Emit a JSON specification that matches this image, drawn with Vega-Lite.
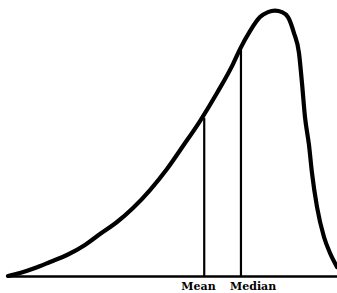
{
  "$schema": "https://vega.github.io/schema/vega-lite/v6.json",
  "width": 337,
  "height": 293,
  "autosize": "none",
  "padding": 0,
  "background": "white",
  "config": {"view": {"stroke": null}},
  "datasets": {
    "curve": [
      {"x": 2.37, "y": 0},
      {"x": 5.93, "y": 1.13},
      {"x": 10.39, "y": 3.01},
      {"x": 14.84, "y": 5.26},
      {"x": 19.88, "y": 7.89},
      {"x": 25.22, "y": 11.65},
      {"x": 29.67, "y": 15.79},
      {"x": 34.72, "y": 20.3},
      {"x": 39.47, "y": 25.56},
      {"x": 44.51, "y": 32.33},
      {"x": 49.55, "y": 40.23},
      {"x": 54.3, "y": 48.87},
      {"x": 59.35, "y": 58.27},
      {"x": 64.39, "y": 68.8},
      {"x": 69.14, "y": 79.7},
      {"x": 71.22, "y": 85.34},
      {"x": 74.18, "y": 92.11},
      {"x": 77.15, "y": 97.37},
      {"x": 79.53, "y": 99.25},
      {"x": 81.6, "y": 99.81},
      {"x": 83.68, "y": 99.25},
      {"x": 85.46, "y": 97.37},
      {"x": 87.24, "y": 91.35},
      {"x": 88.72, "y": 83.83},
      {"x": 89.61, "y": 72.56},
      {"x": 90.5, "y": 59.77},
      {"x": 91.69, "y": 49.25},
      {"x": 92.58, "y": 38.72},
      {"x": 94.07, "y": 25.94},
      {"x": 96.14, "y": 14.66},
      {"x": 97.92, "y": 8.65},
      {"x": 100, "y": 3.38}
    ],
    "lines": [
      {"label": "Mean", "x": 60.6, "bottom": 0, "top": 59.5, "lx": 58.9, "ly": -4.2},
      {"label": "Median", "x": 71.5, "bottom": 0, "top": 85.7, "lx": 75.1, "ly": -4.2}
    ],
    "base": [{"x1": 2.4, "x2": 100, "y": -0.2}]
  },
  "layer": [
    {
      "data": {"name": "base"},
      "mark": {"type": "rule", "color": "black", "strokeWidth": 2.4},
      "encoding": {
        "x": {"field": "x1", "type": "quantitative", "scale": {"domain": [0, 100]}, "axis": null},
        "x2": {"field": "x2"},
        "y": {"field": "y", "type": "quantitative", "scale": {"domain": [-6.4, 103.8]}, "axis": null}
      }
    },
    {
      "data": {"name": "lines"},
      "mark": {"type": "rule", "color": "black", "strokeWidth": 2.2},
      "encoding": {
        "x": {"field": "x", "type": "quantitative", "scale": {"domain": [0, 100]}, "axis": null},
        "y": {"field": "bottom", "type": "quantitative", "scale": {"domain": [-6.4, 103.8]}, "axis": null},
        "y2": {"field": "top"}
      }
    },
    {
      "data": {"name": "curve"},
      "mark": {"type": "line", "color": "black", "strokeWidth": 4.2, "interpolate": "monotone", "strokeCap": "round", "strokeJoin": "round"},
      "encoding": {
        "x": {"field": "x", "type": "quantitative", "scale": {"domain": [0, 100]}, "axis": null},
        "y": {"field": "y", "type": "quantitative", "scale": {"domain": [-6.4, 103.8]}, "axis": null}
      }
    },
    {
      "data": {"name": "lines"},
      "mark": {"type": "text", "font": "DejaVu Serif", "fontWeight": "bold", "fontSize": 11, "color": "black", "baseline": "middle"},
      "encoding": {
        "x": {"field": "lx", "type": "quantitative", "scale": {"domain": [0, 100]}, "axis": null},
        "y": {"field": "ly", "type": "quantitative", "scale": {"domain": [-6.4, 103.8]}, "axis": null},
        "text": {"field": "label"}
      }
    }
  ]
}
